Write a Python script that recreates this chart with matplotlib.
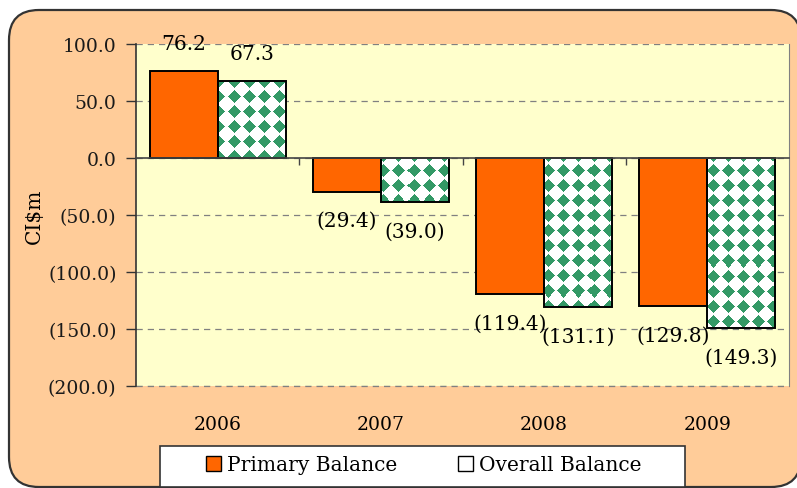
import numpy as np
import matplotlib
matplotlib.use("Agg")
import matplotlib.pyplot as plt
import matplotlib.patches as mpatches
from matplotlib.transforms import IdentityTransform, blended_transform_factory
from matplotlib.ticker import FuncFormatter

plt.rcParams['font.family'] = ['DejaVu Serif']

# =========================
# Data
# =========================
years = ["2006", "2007", "2008", "2009"]
primary = [76.2, -29.4, -119.4, -129.8]
overall = [67.3, -39.0, -131.1, -149.3]
y_ticks = [100, 50, 0, -50, -100, -150, -200]


def fmt(v):
    return f"({abs(v):.1f})" if v < 0 else f"{v:.1f}"


W, H = 797, 489
fig = plt.figure(figsize=(W / 100, H / 100), dpi=100)
fig.patch.set_facecolor("white")

# rounded orange panel
panel = mpatches.FancyBboxPatch((9, 1), 792, 477, boxstyle="round,pad=0,rounding_size=30",
                                transform=IdentityTransform(), facecolor="#FFCC99",
                                edgecolor="#333333", linewidth=1.6, zorder=-3)
fig.patches.append(panel)

ax_l, ax_b, ax_w, ax_h = 136 / W, 102 / H, 653 / W, 342 / H
ax = fig.add_axes([ax_l, ax_b, ax_w, ax_h])
ax.set_facecolor("#FFFFCC")

x = np.arange(len(years))
bw = 0.417
ax.bar(x - bw / 2, primary, bw, color="#FF6600", edgecolor="black", linewidth=1.4, zorder=3)
ov_bg = ax.bar(x + bw / 2, overall, bw, color="white", edgecolor="none", zorder=2)
ax.bar(x + bw / 2, overall, bw, color="none", edgecolor="black", linewidth=1.4, zorder=4)

# green diamond texture, clipped to each Overall bar
pw, ph = 653, 342
jj, ii = np.meshgrid(np.arange(pw), np.arange(ph))
u = (jj % 15) - 7
v = (ii % 15) - 7
mask = (np.abs(u) + np.abs(v)) <= 6
tex = np.zeros((ph, pw, 4))
tex[mask] = [0x33 / 255, 0x99 / 255, 0x66 / 255, 1.0]
for rect in ov_bg:
    im = ax.imshow(tex, extent=(-0.5, 3.5, -200, 100), aspect="auto",
                   interpolation="nearest", origin="upper", zorder=3)
    im.set_clip_path(rect)

ax.set_xlim(-0.5, 3.5)
ax.set_ylim(-200, 100)
ax.set_yticks(y_ticks)
ax.yaxis.set_major_formatter(FuncFormatter(lambda v, p: fmt(v)))
ax.tick_params(axis="y", labelsize=13.5, length=7, width=1, color="#333333", pad=7, colors="#1a1a1a")

ax.grid(axis="y", color="#808080", linestyle=(0, (5, 4)), linewidth=0.9)
ax.set_axisbelow(True)
ax.axhline(-200, color="#808080", linestyle=(0, (5, 4)), linewidth=0.9, clip_on=False)

# category axis crossing at zero
ax.spines["bottom"].set_position(("data", 0))
ax.spines["bottom"].set_color("#444444")
ax.spines["bottom"].set_linewidth(1.2)
ax.spines["bottom"].set_zorder(5)
ax.set_xticks([0.5, 1.5, 2.5])
ax.tick_params(axis="x", labelbottom=False, length=5, width=1, color="#444444")
ax.spines["left"].set_color("#333333")
ax.spines["left"].set_linewidth(1.2)
ax.spines["right"].set_color("#808080")
ax.spines["top"].set_visible(False)

ax.set_ylabel("CI$m", fontsize=14.5, labelpad=3)

tr = blended_transform_factory(ax.transData, ax.transAxes)
for i, yr in enumerate(years):
    ax.text(i, -0.112, yr, transform=tr, ha="center", va="center", fontsize=13.5)

# data labels
for xs, vals in ((x - bw / 2, primary), (x + bw / 2, overall)):
    for xi, val in zip(xs, vals):
        off = 20 if val > 0 else -21
        ax.annotate(fmt(val), (xi, val), xytext=(0, off), textcoords="offset points",
                    ha="center", va="center", fontsize=14.5, zorder=6, annotation_clip=False)

# legend box
lbox = mpatches.Rectangle((160, 1), 525, 41, transform=IdentityTransform(),
                          facecolor="white", edgecolor="#333333", linewidth=1.2, zorder=-2)
fig.patches.append(lbox)
handles = [mpatches.Patch(facecolor="#FF6600", edgecolor="black", label="Primary Balance"),
           mpatches.Patch(facecolor="white", edgecolor="black", label="Overall Balance")]
fig.legend(handles=handles, loc="center", bbox_to_anchor=(424 / W, (489 - 466) / H), ncol=2,
           frameon=False, fontsize=14.5, handlelength=0.75, handleheight=0.75,
           handletextpad=0.3, columnspacing=3.0)

fig.savefig("out.png", dpi=100)
